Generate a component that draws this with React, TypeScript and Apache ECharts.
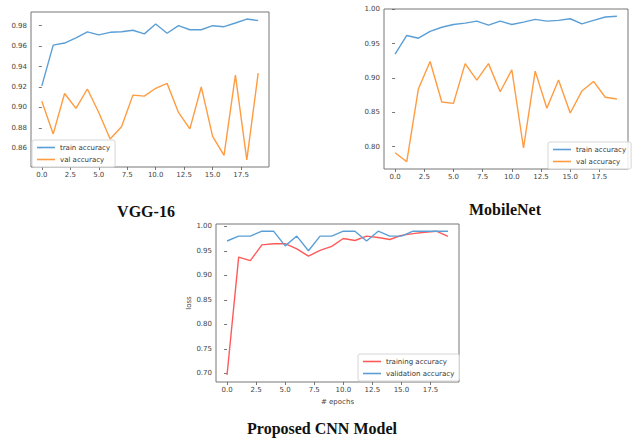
import React, { useEffect, useRef } from "react";
import * as echarts from "echarts";

const epochs = [0, 1, 2, 3, 4, 5, 6, 7, 8, 9, 10, 11, 12, 13, 14, 15, 16, 17, 18, 19];

const vggTrain = [0.921, 0.961, 0.963, 0.968, 0.974, 0.971, 0.9735, 0.974, 0.9755, 0.972, 0.9816, 0.9726, 0.98, 0.976, 0.976, 0.98, 0.979, 0.9826, 0.9865, 0.985];
const vggVal = [0.906, 0.874, 0.9136, 0.899, 0.918, 0.895, 0.869, 0.881, 0.912, 0.911, 0.9187, 0.9235, 0.895, 0.879, 0.92, 0.8716, 0.853, 0.9316, 0.8485, 0.9335];

const mobileTrain = [0.935, 0.962, 0.958, 0.968, 0.974, 0.978, 0.98, 0.983, 0.977, 0.983, 0.978, 0.9815, 0.9855, 0.983, 0.984, 0.9864, 0.979, 0.984, 0.989, 0.99];
const mobileVal = [0.791, 0.778, 0.8845, 0.924, 0.865, 0.863, 0.921, 0.897, 0.921, 0.88, 0.912, 0.798, 0.91, 0.856, 0.897, 0.849, 0.881, 0.895, 0.872, 0.8694];

const cnnTraining = [0.697, 0.937, 0.93, 0.962, 0.9645, 0.9645, 0.954, 0.939, 0.951, 0.959, 0.975, 0.971, 0.98, 0.977, 0.973, 0.9815, 0.985, 0.9877, 0.99, 0.9795];
const cnnValidation = [0.97, 0.98, 0.98, 0.99, 0.99, 0.96, 0.98, 0.95, 0.98, 0.98, 0.99, 0.99, 0.97, 0.99, 0.98, 0.98, 0.99, 0.99, 0.99, 0.99];

const xTicks = [0, 2.5, 5, 7.5, 10, 12.5, 15, 17.5];
const vggYTicks = [0.86, 0.88, 0.9, 0.92, 0.94, 0.96, 0.98];
const mobileYTicks = [0.8, 0.85, 0.9, 0.95, 1.0];
const cnnYTicks = [0.7, 0.75, 0.8, 0.85, 0.9, 0.95, 1.0];

const titles = ["VGG-16", "MobileNet", "Proposed CNN Model"];
const legendVgg = ["train accuracy", "val accuracy"];
const legendCnn = ["training accuracy", "validation accuracy"];
const cnnXName = "# epochs";
const cnnYName = "loss";

const BLUE = "#5b9fd6";
const ORANGE = "#ff9b40";
const RED = "#ff5a5a";
const TICK_FONT = "DejaVu Sans";

function pairs(vals: number[]) {
  return vals.map((v, i) => [epochs[i], v]);
}

function autoRange(arrs: number[][]) {
  const all = arrs.flat();
  const lo = Math.min(...all);
  const hi = Math.max(...all);
  const m = (hi - lo) * 0.05;
  return [lo - m, hi + m];
}

export default function App() {
  const ref = useRef<HTMLDivElement>(null);
  useEffect(() => {
    if (!ref.current) return;
    const chart = echarts.init(ref.current, null, { renderer: "svg" });
    const xr = autoRange([epochs]);
    const vr = autoRange([vggTrain, vggVal]);
    const mr = autoRange([mobileTrain, mobileVal]);
    const cr = autoRange([cnnTraining, cnnValidation]);

    const xAxisBase = (gi: number, extra: any = {}) => ({
      type: "value",
      gridIndex: gi,
      min: xr[0],
      max: xr[1],
      axisLine: { show: false },
      splitLine: { show: false },
      axisTick: { show: true, customValues: xTicks, length: 3, lineStyle: { color: "#555", width: 0.8 } },
      axisLabel: {
        customValues: xTicks,
        formatter: (v: number) => v.toFixed(1),
        fontSize: 7,
        color: "#444",
        fontFamily: TICK_FONT,
        margin: 4,
      },
      ...extra,
    });
    const yAxisBase = (gi: number, r: number[], ticks: number[], extra: any = {}) => ({
      type: "value",
      gridIndex: gi,
      min: r[0],
      max: r[1],
      axisLine: { show: false },
      splitLine: { show: false },
      axisTick: { show: true, customValues: ticks, length: 3, lineStyle: { color: "#555", width: 0.8 } },
      axisLabel: {
        customValues: ticks,
        formatter: (v: number) => v.toFixed(2),
        fontSize: 7,
        color: "#444",
        fontFamily: TICK_FONT,
        margin: 4,
      },
      ...extra,
    });

    const legendBase = {
      orient: "vertical",
      icon: "rect",
      itemWidth: 18,
      itemHeight: 1.6,
      itemGap: 5,
      padding: [4, 5, 4, 5],
      borderColor: "#d6d6d6",
      borderWidth: 1,
      borderRadius: 2,
      backgroundColor: "rgba(255,255,255,0.85)",
      textStyle: { fontSize: 7, color: "#333", fontFamily: TICK_FONT, padding: [0, 0, 0, 0] },
    };

    const lineSeries = (name: string, xi: number, vals: number[], color: string) => ({
      type: "line",
      name,
      xAxisIndex: xi,
      yAxisIndex: xi,
      data: pairs(vals),
      showSymbol: false,
      symbol: "none",
      lineStyle: { color, width: 1.4 },
      itemStyle: { color },
    });

    chart.setOption({
      animation: false,
      backgroundColor: "#fff",
      grid: [
        { left: 31, top: 12, width: 238, height: 155, show: true, borderColor: "#777", borderWidth: 1, backgroundColor: "transparent" },
        { left: 384, top: 9, width: 244, height: 160, show: true, borderColor: "#777", borderWidth: 1, backgroundColor: "transparent" },
        { left: 216, top: 224, width: 243, height: 158, show: true, borderColor: "#777", borderWidth: 1, backgroundColor: "transparent" },
      ],
      xAxis: [
        xAxisBase(0),
        xAxisBase(1),
        xAxisBase(2, {
          name: cnnXName,
          nameLocation: "middle",
          nameGap: 16,
          nameTextStyle: { fontSize: 7, color: "#444", fontFamily: TICK_FONT },
        }),
      ],
      yAxis: [
        yAxisBase(0, vr, vggYTicks),
        yAxisBase(1, mr, mobileYTicks),
        yAxisBase(2, cr, cnnYTicks, {
          name: cnnYName,
          nameLocation: "middle",
          nameGap: 24,
          nameRotate: 90,
          nameTextStyle: { fontSize: 7, color: "#444", fontFamily: TICK_FONT },
        }),
      ],
      legend: [
        { ...legendBase, data: legendVgg, left: 32, top: 140 },
        { ...legendBase, data: legendVgg, left: 548, top: 142 },
        { ...legendBase, data: legendCnn, left: 358, top: 354 },
      ],
      series: [
        lineSeries(legendVgg[0], 0, vggTrain, BLUE),
        lineSeries(legendVgg[1], 0, vggVal, ORANGE),
        lineSeries(legendVgg[0], 1, mobileTrain, BLUE),
        lineSeries(legendVgg[1], 1, mobileVal, ORANGE),
        lineSeries(legendCnn[0], 2, cnnTraining, RED),
        lineSeries(legendCnn[1], 2, cnnValidation, BLUE),
      ],
      graphic: [
        { type: "text", x: 146, y: 211, style: { text: titles[0], font: "bold 16px 'Liberation Serif'", fill: "#111", align: "center", verticalAlign: "middle" } },
        { type: "text", x: 505, y: 209, style: { text: titles[1], font: "bold 16px 'Liberation Serif'", fill: "#111", align: "center", verticalAlign: "middle" } },
        { type: "text", x: 322, y: 428, style: { text: titles[2], font: "bold 16px 'Liberation Serif'", fill: "#111", align: "center", verticalAlign: "middle" } },
      ],
    });
    return () => chart.dispose();
  }, []);
  return <div ref={ref} style={{ position: "fixed", left: 0, top: 0, width: 632, height: 439 }} />;
}
